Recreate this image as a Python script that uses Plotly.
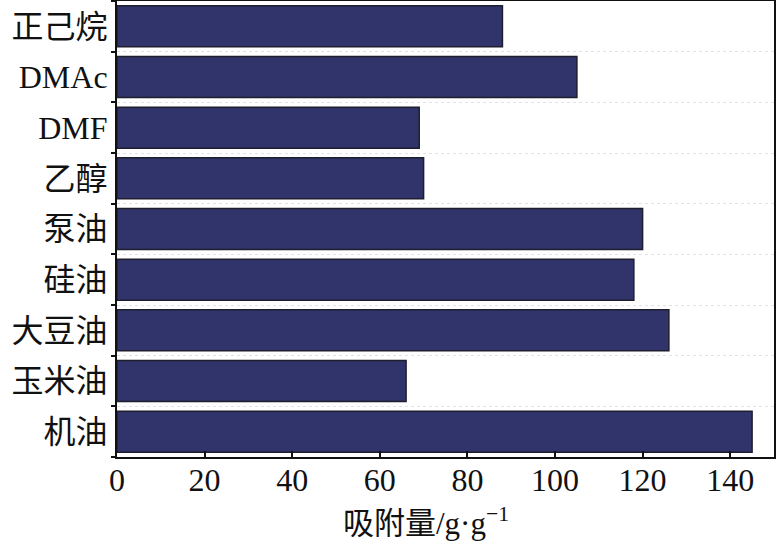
import plotly.graph_objects as go

categories = ["正己烷", "DMAc", "DMF", "乙醇", "泵油", "硅油", "大豆油", "玉米油", "机油"]
values = [88, 105, 69, 70, 120, 118, 126, 66, 145]
x_ticks = [0, 20, 40, 60, 80, 100, 120, 140]
x_title = "吸附量/g·g<sup>−1</sup>"

font_family = "Liberation Serif, Times New Roman, Noto Sans CJK SC, serif"

fig = go.Figure(go.Bar(
    x=values, y=categories, orientation="h",
    marker=dict(color="#31346A", line=dict(color="#1e1e2e", width=1.5)),
    width=0.81,
))

fig.update_layout(
    width=776, height=546,
    margin=dict(l=117, r=2, t=1, b=89),
    plot_bgcolor="white", paper_bgcolor="white",
    font=dict(family=font_family, size=32, color="#111"),
    showlegend=False,
)
fig.add_annotation(
    text=x_title, xref="paper", yref="paper", x=0.47, y=-0.095,
    xanchor="center", yanchor="top", showarrow=False, font=dict(size=31),
)
fig.update_xaxes(
    range=[0, 150], tickvals=x_ticks, ticks="inside", ticklen=6, tickwidth=2,
    tickcolor="#111", showline=True, linecolor="#111", linewidth=2, mirror=True,
    showgrid=False, zeroline=False, automargin=False,
    tickfont=dict(size=32), ticklabelstandoff=-6,
)
fig.update_yaxes(
    categoryorder="array", categoryarray=categories[::-1], automargin=False,
    tickson="boundaries", ticks="outside", ticklen=4, tickwidth=2, tickcolor="#111",
    showline=True, linecolor="#111", linewidth=2, mirror=True,
    showgrid=True, gridcolor="#e2e2e2", griddash="dot", gridwidth=1,
    tickfont=dict(size=32), ticklabelstandoff=1,
)

fig.write_html("out.html", config={"displayModeBar": False},
               post_script="document.body.style.margin='0';")
